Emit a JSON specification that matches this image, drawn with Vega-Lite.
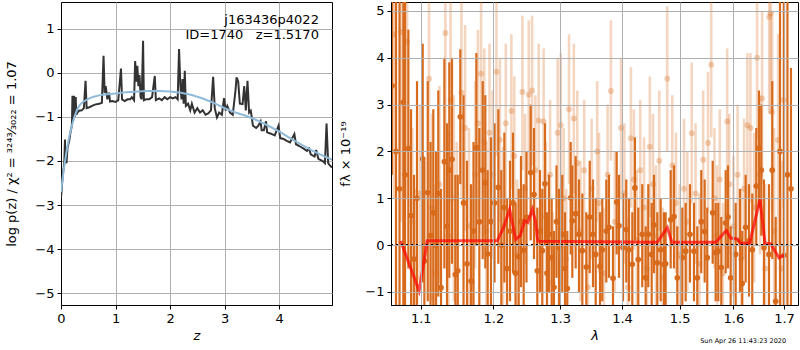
{
"$schema": "https://vega.github.io/schema/vega-lite/v6.json",
"padding": {"left": 5, "top": 1, "right": 0, "bottom": 0},
"spacing": 6,
"config": {
 "font": "DejaVu Sans",
 "view": {"stroke": "black", "strokeWidth": 1},
 "axis": {"labelFontSize": 13, "titleFontSize": 13, "titleFontWeight": "normal", "labelColor": "black", "titleColor": "black", "tickColor": "black", "domainColor": "black", "tickSize": 4, "labelPadding": 3, "gridColor": "#b0b0b0", "gridWidth": 1, "labelFont": "DejaVu Sans", "titleFont": "DejaVu Sans", "labelFlush": false, "labelOverlap": false}
},
"datasets": {
 "pz": [
  {"z":0,"lp":-2.84},{"z":0.03,"lp":-2.35},{"z":0.06,"lp":-2.05},{"z":0.073,"lp":-1.51},{"z":0.08,"lp":-1.95},{"z":0.1,"lp":-2.05},{"z":0.12,"lp":-1.7},{"z":0.15,"lp":-1.55},{"z":0.18,"lp":-1.3},{"z":0.2,"lp":-1.2},{"z":0.21,"lp":-0.52},{"z":0.22,"lp":-1.1},{"z":0.24,"lp":-0.52},{"z":0.25,"lp":-1.0},{"z":0.27,"lp":-0.55},{"z":0.28,"lp":-0.95},{"z":0.3,"lp":-0.9},{"z":0.33,"lp":-0.86},{"z":0.38,"lp":-0.85},{"z":0.42,"lp":-0.8},{"z":0.45,"lp":-0.18},{"z":0.47,"lp":-0.8},{"z":0.52,"lp":-0.78},{"z":0.57,"lp":-0.75},{"z":0.62,"lp":-0.72},{"z":0.7,"lp":-0.7},{"z":0.75,"lp":-0.68},{"z":0.78,"lp":0.39},{"z":0.8,"lp":-0.45},{"z":0.82,"lp":-0.3},{"z":0.85,"lp":-0.6},{"z":0.88,"lp":-0.45},{"z":0.9,"lp":-0.65},{"z":0.94,"lp":-0.64},{"z":1.0,"lp":-0.66},{"z":1.05,"lp":-0.62},{"z":1.1,"lp":0.1},{"z":1.12,"lp":-0.6},{"z":1.17,"lp":-0.64},{"z":1.22,"lp":-0.6},{"z":1.27,"lp":-0.6},{"z":1.3,"lp":-0.55},{"z":1.34,"lp":-0.62},{"z":1.36,"lp":0.27},{"z":1.38,"lp":-0.2},{"z":1.4,"lp":0.16},{"z":1.42,"lp":-0.3},{"z":1.44,"lp":-0.05},{"z":1.46,"lp":-0.55},{"z":1.48,"lp":-0.6},{"z":1.505,"lp":0.73},{"z":1.52,"lp":-0.62},{"z":1.56,"lp":-0.6},{"z":1.62,"lp":-0.6},{"z":1.67,"lp":-0.55},{"z":1.72,"lp":-0.07},{"z":1.74,"lp":-0.62},{"z":1.8,"lp":-0.58},{"z":1.85,"lp":-0.62},{"z":1.9,"lp":-0.55},{"z":1.95,"lp":-0.6},{"z":2.0,"lp":-0.55},{"z":2.05,"lp":-0.58},{"z":2.1,"lp":-0.55},{"z":2.14,"lp":-0.6},{"z":2.165,"lp":0.54},{"z":2.19,"lp":-0.3},{"z":2.21,"lp":-0.6},{"z":2.23,"lp":-0.14},{"z":2.25,"lp":-0.7},{"z":2.27,"lp":0.05},{"z":2.29,"lp":-0.75},{"z":2.33,"lp":-0.7},{"z":2.37,"lp":-0.85},{"z":2.4,"lp":-0.7},{"z":2.45,"lp":-0.9},{"z":2.5,"lp":-0.8},{"z":2.55,"lp":-0.9},{"z":2.6,"lp":-0.85},{"z":2.65,"lp":-0.95},{"z":2.7,"lp":-0.92},{"z":2.75,"lp":-0.85},{"z":2.79,"lp":-0.09},{"z":2.82,"lp":-0.8},{"z":2.86,"lp":-1.01},{"z":2.9,"lp":-0.9},{"z":2.95,"lp":-0.95},{"z":2.99,"lp":-0.57},{"z":3.02,"lp":-0.85},{"z":3.05,"lp":-0.75},{"z":3.1,"lp":-0.9},{"z":3.15,"lp":-0.95},{"z":3.2,"lp":-0.4},{"z":3.22,"lp":-0.1},{"z":3.25,"lp":-0.2},{"z":3.28,"lp":-0.7},{"z":3.33,"lp":-0.71},{"z":3.36,"lp":-0.3},{"z":3.39,"lp":-0.85},{"z":3.42,"lp":-0.18},{"z":3.45,"lp":-0.9},{"z":3.48,"lp":-0.86},{"z":3.52,"lp":-1.2},{"z":3.58,"lp":-1.25},{"z":3.62,"lp":-1.2},{"z":3.66,"lp":-1.1},{"z":3.68,"lp":-1.3},{"z":3.72,"lp":-1.3},{"z":3.76,"lp":-1.1},{"z":3.78,"lp":-1.35},{"z":3.85,"lp":-1.38},{"z":3.92,"lp":-1.42},{"z":3.99,"lp":-1.2},{"z":4.02,"lp":-1.48},{"z":4.08,"lp":-1.5},{"z":4.15,"lp":-1.55},{"z":4.2,"lp":-1.58},{"z":4.28,"lp":-1.39},{"z":4.31,"lp":-1.62},{"z":4.37,"lp":-1.66},{"z":4.45,"lp":-1.72},{"z":4.51,"lp":-1.77},{"z":4.55,"lp":-1.72},{"z":4.58,"lp":-1.85},{"z":4.65,"lp":-1.9},{"z":4.68,"lp":-1.75},{"z":4.72,"lp":-1.95},{"z":4.8,"lp":-2.0},{"z":4.84,"lp":-2.05},{"z":4.87,"lp":-1.15},{"z":4.9,"lp":-2.05},{"z":4.93,"lp":-2.1},{"z":4.97,"lp":-2.15}
 ],
 "pzs": [
  {"z":0,"lp":-2.7},{"z":0.05,"lp":-2.2},{"z":0.1,"lp":-1.8},{"z":0.15,"lp":-1.45},{"z":0.2,"lp":-1.2},{"z":0.25,"lp":-0.98},{"z":0.3,"lp":-0.82},{"z":0.35,"lp":-0.72},{"z":0.4,"lp":-0.66},{"z":0.5,"lp":-0.59},{"z":0.6,"lp":-0.54},{"z":0.7,"lp":-0.51},{"z":0.8,"lp":-0.49},{"z":1.0,"lp":-0.47},{"z":1.2,"lp":-0.44},{"z":1.4,"lp":-0.42},{"z":1.6,"lp":-0.41},{"z":1.8,"lp":-0.41},{"z":2.0,"lp":-0.42},{"z":2.2,"lp":-0.45},{"z":2.4,"lp":-0.5},{"z":2.6,"lp":-0.58},{"z":2.8,"lp":-0.68},{"z":3.0,"lp":-0.8},{"z":3.2,"lp":-0.9},{"z":3.4,"lp":-0.98},{"z":3.6,"lp":-1.08},{"z":3.8,"lp":-1.2},{"z":4.0,"lp":-1.33},{"z":4.2,"lp":-1.48},{"z":4.4,"lp":-1.62},{"z":4.6,"lp":-1.76},{"z":4.8,"lp":-1.88},{"z":4.97,"lp":-1.97}
 ],
 "dark": [
  {"l":1.0628,"y":3.4,"lo":1.5,"hi":6},{"l":1.0679,"y":2.0,"lo":-2,"hi":6},{"l":1.0724,"y":1.2,"lo":-2,"hi":6},{"l":1.0773,"y":3.05,"lo":-1.5,"hi":6},{"l":1.0795,"y":1.5,"lo":-2,"hi":6},{"l":1.0838,"y":2.06,"lo":-0.5,"hi":4.6},{"l":1.0873,"y":0.63,"lo":-1.6,"hi":2.9},{"l":1.0912,"y":-0.3,"lo":-2.2,"hi":1.5},{"l":1.0951,"y":1.0,"lo":-1.5,"hi":3.5},{"l":1.1026,"y":1.84,"lo":-0.8,"hi":4.3},{"l":1.1048,"y":-0.34,"lo":-2.5,"hi":1.8},{"l":1.1093,"y":1.12,"lo":-1.2,"hi":3.5},{"l":1.113,"y":0.2,"lo":-1.8,"hi":2.2},{"l":1.1167,"y":0.69,"lo":-1.5,"hi":2.9},{"l":1.1204,"y":0.0,"lo":-2,"hi":2},{"l":1.1234,"y":1.1,"lo":-1.1,"hi":3.3},{"l":1.1271,"y":-0.91,"lo":-3,"hi":1.2},{"l":1.1316,"y":1.78,"lo":-0.5,"hi":4.0},{"l":1.1352,"y":0.4,"lo":-1.8,"hi":2.6},{"l":1.1383,"y":1.6,"lo":-0.7,"hi":3.9},{"l":1.142,"y":1.83,"lo":-0.4,"hi":4.0},{"l":1.1466,"y":-0.63,"lo":-2.8,"hi":1.5},{"l":1.1499,"y":-0.55,"lo":-2.6,"hi":1.5},{"l":1.1534,"y":2.74,"lo":1.3,"hi":4.18},{"l":1.1579,"y":0.9,"lo":-1.4,"hi":3.2},{"l":1.1627,"y":-0.4,"lo":-2.6,"hi":1.8},{"l":1.1683,"y":-0.77,"lo":-2.8,"hi":1.3},{"l":1.1718,"y":0.3,"lo":-1.6,"hi":2.2},{"l":1.1758,"y":2.08,"lo":0,"hi":4.1},{"l":1.18,"y":0.5,"lo":-1.5,"hi":2.5},{"l":1.1848,"y":1.6,"lo":-0.3,"hi":3.5},{"l":1.1885,"y":1.33,"lo":-0.5,"hi":3.2},{"l":1.1919,"y":-0.19,"lo":-2,"hi":1.6},{"l":1.1966,"y":0.5,"lo":-1.3,"hi":2.3},{"l":1.2017,"y":0.9,"lo":-0.8,"hi":2.6},{"l":1.2072,"y":1.23,"lo":-0.4,"hi":2.9},{"l":1.2115,"y":0.0,"lo":-1.6,"hi":1.6},{"l":1.2159,"y":0.8,"lo":-0.8,"hi":2.4},{"l":1.2198,"y":-0.5,"lo":-2,"hi":1.0},{"l":1.2242,"y":0.3,"lo":-1.2,"hi":1.8},{"l":1.2286,"y":0.9,"lo":-0.6,"hi":2.4},{"l":1.2323,"y":-0.6,"lo":-2.1,"hi":0.9},{"l":1.237,"y":-0.25,"lo":-1.7,"hi":1.2},{"l":1.2404,"y":0.5,"lo":-0.9,"hi":1.9},{"l":1.2444,"y":-0.11,"lo":-1.5,"hi":1.3},{"l":1.2486,"y":0.6,"lo":-0.8,"hi":2.0},{"l":1.2549,"y":1.55,"lo":0.1,"hi":3.0},{"l":1.2599,"y":1.08,"lo":-0.3,"hi":2.5},{"l":1.2649,"y":-0.55,"lo":-1.9,"hi":0.8},{"l":1.269,"y":0.3,"lo":-1.0,"hi":1.6},{"l":1.2725,"y":-0.12,"lo":-1.4,"hi":1.2},{"l":1.2766,"y":1.31,"lo":0.0,"hi":2.6},{"l":1.2797,"y":-0.6,"lo":-1.9,"hi":0.7},{"l":1.2827,"y":0.23,"lo":-1.0,"hi":1.5},{"l":1.2869,"y":-0.27,"lo":-1.5,"hi":1.0},{"l":1.2904,"y":-0.9,"lo":-2.1,"hi":0.3},{"l":1.2943,"y":0.5,"lo":-0.7,"hi":1.7},{"l":1.2982,"y":-0.05,"lo":-1.3,"hi":1.2},{"l":1.3033,"y":0.23,"lo":-1.0,"hi":1.5},{"l":1.3076,"y":-0.5,"lo":-1.7,"hi":0.7},{"l":1.3112,"y":-0.93,"lo":-2.1,"hi":0.3},{"l":1.3165,"y":1.01,"lo":-0.2,"hi":2.2},{"l":1.3191,"y":0.52,"lo":-0.7,"hi":1.7},{"l":1.3244,"y":0.67,"lo":-0.5,"hi":1.9},{"l":1.3297,"y":0.23,"lo":-1.0,"hi":1.4},{"l":1.335,"y":-0.12,"lo":-1.3,"hi":1.1},{"l":1.3414,"y":-0.47,"lo":-1.6,"hi":0.7},{"l":1.3469,"y":0.6,"lo":-0.6,"hi":1.8},{"l":1.3522,"y":0.23,"lo":-0.9,"hi":1.4},{"l":1.3566,"y":-0.2,"lo":-1.4,"hi":1.0},{"l":1.3636,"y":-0.45,"lo":-1.6,"hi":0.7},{"l":1.3673,"y":-0.1,"lo":-1.2,"hi":1.0},{"l":1.3739,"y":0.3,"lo":-0.8,"hi":1.4},{"l":1.3783,"y":0.38,"lo":-0.7,"hi":1.5},{"l":1.385,"y":-0.71,"lo":-1.8,"hi":0.4},{"l":1.3911,"y":0.92,"lo":-0.2,"hi":2.0},{"l":1.395,"y":0.41,"lo":-0.7,"hi":1.5},{"l":1.4017,"y":-0.06,"lo":-1.2,"hi":1.1},{"l":1.4072,"y":0.33,"lo":-0.8,"hi":1.4},{"l":1.4118,"y":-0.1,"lo":-1.2,"hi":1.0},{"l":1.4174,"y":-0.41,"lo":-1.5,"hi":0.7},{"l":1.4219,"y":1.22,"lo":0.1,"hi":2.3},{"l":1.4276,"y":-0.31,"lo":-1.4,"hi":0.8},{"l":1.4344,"y":0.23,"lo":-0.9,"hi":1.3},{"l":1.4403,"y":-0.7,"lo":-1.8,"hi":0.4},{"l":1.4448,"y":0.23,"lo":-0.9,"hi":1.3},{"l":1.4507,"y":-0.2,"lo":-1.3,"hi":0.9},{"l":1.4547,"y":0.43,"lo":-0.6,"hi":1.5},{"l":1.4605,"y":-0.38,"lo":-1.4,"hi":0.7},{"l":1.4664,"y":-0.1,"lo":-1.2,"hi":1.0},{"l":1.4722,"y":-0.41,"lo":-1.5,"hi":0.7},{"l":1.4752,"y":-0.4,"lo":-1.5,"hi":0.7},{"l":1.4841,"y":0.54,"lo":-0.5,"hi":1.6},{"l":1.49,"y":0.61,"lo":-0.5,"hi":1.7},{"l":1.4959,"y":-0.7,"lo":-1.8,"hi":0.4},{"l":1.5049,"y":-0.27,"lo":-1.3,"hi":0.8},{"l":1.511,"y":-0.13,"lo":-1.2,"hi":0.9},{"l":1.5188,"y":0.23,"lo":-0.8,"hi":1.3},{"l":1.5261,"y":-0.13,"lo":-1.2,"hi":0.9},{"l":1.5322,"y":-0.7,"lo":-1.8,"hi":0.4},{"l":1.5395,"y":0.5,"lo":-0.6,"hi":1.6},{"l":1.5458,"y":0.29,"lo":-0.8,"hi":1.4},{"l":1.5506,"y":-0.27,"lo":-1.3,"hi":0.8},{"l":1.5607,"y":0.69,"lo":-0.4,"hi":1.8},{"l":1.5663,"y":-0.16,"lo":-1.2,"hi":0.9},{"l":1.5712,"y":-0.13,"lo":-1.2,"hi":0.9},{"l":1.5769,"y":-0.48,"lo":-1.6,"hi":0.6},{"l":1.5852,"y":0.47,"lo":-0.6,"hi":1.6},{"l":1.5896,"y":0.6,"lo":-0.5,"hi":1.7},{"l":1.5947,"y":-0.7,"lo":-1.8,"hi":0.4},{"l":1.6043,"y":-0.2,"lo":-1.3,"hi":0.9},{"l":1.6126,"y":0.09,"lo":-1.0,"hi":1.2},{"l":1.617,"y":-0.82,"lo":-1.9,"hi":0.3},{"l":1.6236,"y":0.38,"lo":-0.8,"hi":1.5},{"l":1.6301,"y":0.09,"lo":-1.1,"hi":1.3},{"l":1.6365,"y":-0.1,"lo":-1.3,"hi":1.1},{"l":1.6444,"y":1.26,"lo":0,"hi":2.5},{"l":1.6497,"y":2.07,"lo":0.8,"hi":3.3},{"l":1.6543,"y":1.6,"lo":0.2,"hi":3.0},{"l":1.6596,"y":-0.06,"lo":-1.5,"hi":1.4},{"l":1.6696,"y":-0.2,"lo":-1.7,"hi":1.3},{"l":1.6762,"y":1.6,"lo":-0.3,"hi":3.5},{"l":1.6831,"y":-1.2,"lo":-3.0,"hi":0.6},{"l":1.6918,"y":2.0,"lo":-1.5,"hi":6},{"l":1.7,"y":-0.22,"lo":-2.5,"hi":6},{"l":1.707,"y":1.5,"lo":-2.5,"hi":6},{"l":1.7142,"y":1.2,"lo":-1.4,"hi":3.78}
 ],
 "light": [
  {"l":1.065,"y":4.5,"lo":1.0,"hi":8},{"l":1.074,"y":4.55,"lo":0.5,"hi":8},{"l":1.0822,"y":4.34,"lo":1.0,"hi":7.5},{"l":1.089,"y":0.5,"lo":-1.5,"hi":2.5},{"l":1.0935,"y":-0.7,"lo":-2.5,"hi":1.2},{"l":1.099,"y":1.1,"lo":-0.8,"hi":3.0},{"l":1.111,"y":3.55,"lo":1.2,"hi":5.9},{"l":1.115,"y":0.8,"lo":-1.2,"hi":2.8},{"l":1.119,"y":-0.6,"lo":-2.5,"hi":1.3},{"l":1.125,"y":1.3,"lo":-0.8,"hi":3.4},{"l":1.133,"y":4.53,"lo":2.0,"hi":7},{"l":1.137,"y":0.2,"lo":-2,"hi":2.4},{"l":1.14,"y":3.1,"lo":0.9,"hi":5.3},{"l":1.1445,"y":1.0,"lo":-1.2,"hi":3.2},{"l":1.1485,"y":0.0,"lo":-2.2,"hi":2.2},{"l":1.155,"y":3.25,"lo":1.0,"hi":5.5},{"l":1.16,"y":2.5,"lo":0.3,"hi":4.7},{"l":1.1655,"y":0.4,"lo":-1.7,"hi":2.5},{"l":1.17,"y":-0.8,"lo":-2.8,"hi":1.2},{"l":1.174,"y":1.5,"lo":-0.5,"hi":3.5},{"l":1.178,"y":2.6,"lo":0.6,"hi":4.6},{"l":1.1825,"y":3.66,"lo":1.6,"hi":5.7},{"l":1.187,"y":2.2,"lo":0.2,"hi":4.2},{"l":1.19,"y":0.3,"lo":-1.6,"hi":2.2},{"l":1.1945,"y":2.4,"lo":0.5,"hi":4.3},{"l":1.199,"y":1.5,"lo":-0.3,"hi":3.3},{"l":1.2045,"y":3.7,"lo":1.9,"hi":5.5},{"l":1.2095,"y":2.25,"lo":0.5,"hi":4.0},{"l":1.214,"y":0.4,"lo":-1.3,"hi":2.1},{"l":1.218,"y":2.6,"lo":0.9,"hi":4.3},{"l":1.2262,"y":2.86,"lo":1.2,"hi":4.5},{"l":1.2305,"y":1.9,"lo":0.2,"hi":3.6},{"l":1.2345,"y":-0.2,"lo":-1.8,"hi":1.4},{"l":1.2425,"y":3.27,"lo":1.6,"hi":4.9},{"l":1.2465,"y":1.2,"lo":-0.4,"hi":2.8},{"l":1.252,"y":3.21,"lo":1.6,"hi":4.8},{"l":1.257,"y":3.3,"lo":1.7,"hi":4.9},{"l":1.262,"y":1.6,"lo":0,"hi":3.2},{"l":1.267,"y":2.66,"lo":1.0,"hi":4.3},{"l":1.2745,"y":2.64,"lo":1.0,"hi":4.2},{"l":1.278,"y":0.6,"lo":-1.0,"hi":2.2},{"l":1.2845,"y":1.5,"lo":-0.1,"hi":3.1},{"l":1.2885,"y":-0.8,"lo":-2.3,"hi":0.7},{"l":1.2962,"y":2.4,"lo":0.8,"hi":4.0},{"l":1.301,"y":2.56,"lo":1.0,"hi":4.1},{"l":1.3055,"y":1.0,"lo":-0.5,"hi":2.5},{"l":1.3095,"y":-0.3,"lo":-1.8,"hi":1.2},{"l":1.3139,"y":2.9,"lo":1.3,"hi":4.5},{"l":1.3215,"y":2.7,"lo":1.1,"hi":4.3},{"l":1.327,"y":1.75,"lo":0.2,"hi":3.3},{"l":1.332,"y":0.3,"lo":-1.2,"hi":1.8},{"l":1.338,"y":1.6,"lo":0.1,"hi":3.1},{"l":1.344,"y":-0.9,"lo":-2.4,"hi":0.6},{"l":1.35,"y":1.2,"lo":-0.3,"hi":2.7},{"l":1.359,"y":2.0,"lo":0.5,"hi":3.5},{"l":1.362,"y":0.9,"lo":-0.6,"hi":2.4},{"l":1.37,"y":-0.6,"lo":-2.0,"hi":0.8},{"l":1.376,"y":1.5,"lo":0.0,"hi":3.0},{"l":1.3815,"y":3.29,"lo":1.8,"hi":4.8},{"l":1.388,"y":0.5,"lo":-1.0,"hi":2.0},{"l":1.3985,"y":2.5,"lo":1.0,"hi":4.0},{"l":1.404,"y":1.1,"lo":-0.4,"hi":2.6},{"l":1.41,"y":-0.9,"lo":-2.4,"hi":0.6},{"l":1.415,"y":2.28,"lo":0.8,"hi":3.8},{"l":1.42,"y":1.4,"lo":-0.1,"hi":2.9},{"l":1.425,"y":0.1,"lo":-1.4,"hi":1.6},{"l":1.431,"y":1.6,"lo":0.1,"hi":3.1},{"l":1.4375,"y":0.8,"lo":-0.7,"hi":2.3},{"l":1.4425,"y":-0.5,"lo":-2,"hi":1.0},{"l":1.4475,"y":2.1,"lo":0.6,"hi":3.6},{"l":1.453,"y":1.3,"lo":-0.2,"hi":2.8},{"l":1.458,"y":0.2,"lo":-1.3,"hi":1.7},{"l":1.464,"y":1.8,"lo":0.3,"hi":3.3},{"l":1.47,"y":-0.7,"lo":-2.2,"hi":0.8},{"l":1.478,"y":3.55,"lo":2.0,"hi":5.1},{"l":1.487,"y":1.7,"lo":0.2,"hi":3.2},{"l":1.4935,"y":0.9,"lo":-0.6,"hi":2.4},{"l":1.5,"y":-0.2,"lo":-1.7,"hi":1.3},{"l":1.508,"y":1.2,"lo":-0.3,"hi":2.7},{"l":1.514,"y":0.5,"lo":-1.0,"hi":2.0},{"l":1.522,"y":2.39,"lo":0.9,"hi":3.9},{"l":1.529,"y":1.1,"lo":-0.4,"hi":2.6},{"l":1.536,"y":-0.4,"lo":-1.9,"hi":1.1},{"l":1.543,"y":1.82,"lo":0.3,"hi":3.3},{"l":1.552,"y":2.18,"lo":0.7,"hi":3.7},{"l":1.558,"y":3.85,"lo":2.3,"hi":5.4},{"l":1.564,"y":1.0,"lo":-0.5,"hi":2.5},{"l":1.569,"y":0.2,"lo":-1.3,"hi":1.7},{"l":1.574,"y":1.4,"lo":-0.1,"hi":2.9},{"l":1.58,"y":-0.6,"lo":-2.1,"hi":0.9},{"l":1.588,"y":2.64,"lo":1.1,"hi":4.2},{"l":1.592,"y":1.3,"lo":-0.2,"hi":2.8},{"l":1.6,"y":0.4,"lo":-1.1,"hi":1.9},{"l":1.608,"y":1.5,"lo":0.0,"hi":3.0},{"l":1.615,"y":-0.3,"lo":-1.8,"hi":1.2},{"l":1.6205,"y":1.2,"lo":-0.3,"hi":2.7},{"l":1.627,"y":2.56,"lo":1.0,"hi":4.1},{"l":1.633,"y":2.5,"lo":0.9,"hi":4.1},{"l":1.64,"y":0.8,"lo":-0.8,"hi":2.4},{"l":1.646,"y":4.0,"lo":2.3,"hi":5.7},{"l":1.652,"y":1.5,"lo":-0.2,"hi":3.2},{"l":1.656,"y":3.13,"lo":1.3,"hi":5.0},{"l":1.662,"y":-0.5,"lo":-2.3,"hi":1.3},{"l":1.67,"y":4.87,"lo":2.8,"hi":7},{"l":1.673,"y":4.95,"lo":2.8,"hi":7},{"l":1.676,"y":2.84,"lo":0.7,"hi":5.0},{"l":1.68,"y":0.3,"lo":-1.9,"hi":2.5},{"l":1.688,"y":2.24,"lo":0,"hi":4.5},{"l":1.695,"y":-0.5,"lo":-2.8,"hi":1.8},{"l":1.699,"y":3.1,"lo":0.8,"hi":5.4}
 ],
 "model": [
  {"l":1.074,"y":0.085},{"l":1.0978,"y":-0.98},{"l":1.1087,"y":0.09},{"l":1.2057,"y":0.09},{"l":1.2147,"y":0.37},{"l":1.2236,"y":0.76},{"l":1.2325,"y":0.12},{"l":1.2393,"y":0.2},{"l":1.246,"y":0.52},{"l":1.2506,"y":0.48},{"l":1.2574,"y":0.76},{"l":1.262,"y":0.52},{"l":1.2657,"y":0.08},{"l":1.4605,"y":0.06},{"l":1.4782,"y":0.37},{"l":1.4863,"y":0.06},{"l":1.5665,"y":0.06},{"l":1.5864,"y":0.31},{"l":1.5947,"y":0.15},{"l":1.6073,"y":0.13},{"l":1.6138,"y":0.04},{"l":1.6313,"y":0.04},{"l":1.6518,"y":0.97},{"l":1.6617,"y":0.04},{"l":1.673,"y":0.03},{"l":1.6897,"y":-0.27},{"l":1.7,"y":-0.22}
 ]
},
"hconcat": [
 {
  "width": 271, "height": 303,
  "layer": [
   {"data": {"name": "pz"},
    "mark": {"type": "line", "color": "#333333", "strokeWidth": 2, "clip": true},
    "encoding": {
     "x": {"field": "z", "type": "quantitative", "scale": {"domain": [0, 4.97], "nice": false, "zero": false}, "axis": {"values": [0,1,2,3,4], "title": "z", "titleFontStyle": "italic", "titlePadding": 4}},
     "y": {"field": "lp", "type": "quantitative", "scale": {"domain": [-5.27, 1.61], "nice": false, "zero": false}, "axis": {"values": [-5,-4,-3,-2,-1,0,1], "title": "log p(z) / χ² = ³²⁴³⁄₃₀₂₂ = 1.07", "titlePadding": 16}}
    }},
   {"data": {"name": "pzs"},
    "mark": {"type": "line", "color": "#8fbbd9", "strokeWidth": 2, "clip": true},
    "encoding": {
     "x": {"field": "z", "type": "quantitative", "scale": {"domain": [0, 4.97], "nice": false, "zero": false}, "title": "z"},
     "y": {"field": "lp", "type": "quantitative", "scale": {"domain": [-5.27, 1.61], "nice": false, "zero": false}, "title": "log p(z) / χ² = ³²⁴³⁄₃₀₂₂ = 1.07"}
    }},
   {"data": {"values": [{}]},
    "mark": {"type": "text", "text": "j163436p4022", "align": "right", "baseline": "middle", "fontSize": 13, "font": "DejaVu Sans", "color": "black"},
    "encoding": {"x": {"datum": 4.73}, "y": {"datum": 1.2}}},
   {"data": {"values": [{}]},
    "mark": {"type": "text", "text": "ID=1740\u00a0\u00a0\u00a0z=1.5170", "align": "right", "baseline": "middle", "fontSize": 13, "font": "DejaVu Sans", "color": "black"},
    "encoding": {"x": {"datum": 4.73}, "y": {"datum": 0.86}}}
  ]
 },
 {
  "width": 407, "height": 303,
  "layer": [
   {"data": {"name": "light"},
    "mark": {"type": "rule", "color": "#d86a1c", "opacity": 0.28, "strokeWidth": 2.6, "clip": true},
    "encoding": {
     "x": {"field": "l", "type": "quantitative", "scale": {"type": "log", "domain": [1.0615, 1.7287], "nice": false}, "axis": {"values": [1.1,1.2,1.3,1.4,1.5,1.6,1.7], "format": ".1f", "title": "λ", "titleFontStyle": "italic", "titlePadding": 4, "zindex": 1}},
     "y": {"field": "lo", "type": "quantitative", "scale": {"domain": [-1.28, 5.19], "nice": false, "zero": false}, "axis": {"values": [-1,0,1,2,3,4,5], "title": "fλ × 10⁻¹⁹", "titlePadding": 12, "zindex": 1}},
     "y2": {"field": "hi"}
    }},
   {"data": {"name": "light"},
    "mark": {"type": "circle", "color": "#d86a1c", "opacity": 0.3, "size": 36, "clip": true},
    "encoding": {
     "x": {"field": "l", "type": "quantitative", "scale": {"type": "log", "domain": [1.0615, 1.7287], "nice": false}, "title": "λ"},
     "y": {"field": "y", "type": "quantitative", "scale": {"domain": [-1.28, 5.19], "nice": false, "zero": false}, "title": "fλ × 10⁻¹⁹"}
    }},
   {"data": {"name": "dark"},
    "mark": {"type": "rule", "color": "#d86a1c", "strokeWidth": 2.2, "clip": true},
    "encoding": {
     "x": {"field": "l", "type": "quantitative", "scale": {"type": "log", "domain": [1.0615, 1.7287], "nice": false}, "title": "λ"},
     "y": {"field": "lo", "type": "quantitative", "scale": {"domain": [-1.28, 5.19], "nice": false, "zero": false}, "title": "fλ × 10⁻¹⁹"},
     "y2": {"field": "hi"}
    }},
   {"data": {"name": "dark"},
    "mark": {"type": "circle", "color": "#d86a1c", "opacity": 1, "size": 32, "clip": true},
    "encoding": {
     "x": {"field": "l", "type": "quantitative", "scale": {"type": "log", "domain": [1.0615, 1.7287], "nice": false}, "title": "λ"},
     "y": {"field": "y", "type": "quantitative", "scale": {"domain": [-1.28, 5.19], "nice": false, "zero": false}, "title": "fλ × 10⁻¹⁹"}
    }},
   {"data": {"name": "model"},
    "mark": {"type": "line", "color": "red", "opacity": 0.7, "strokeWidth": 3, "clip": true},
    "encoding": {
     "x": {"field": "l", "type": "quantitative", "scale": {"type": "log", "domain": [1.0615, 1.7287], "nice": false}, "title": "λ"},
     "y": {"field": "y", "type": "quantitative", "scale": {"domain": [-1.28, 5.19], "nice": false, "zero": false}, "title": "fλ × 10⁻¹⁹"}
    }},
   {"data": {"values": [{}]},
    "mark": {"type": "rule", "color": "black", "strokeWidth": 2, "strokeDash": [2, 3]},
    "encoding": {"y": {"datum": 0}}},
   {"data": {"values": [{}]},
    "mark": {"type": "text", "text": "Sun Apr 26 11:43:23 2020", "align": "right", "baseline": "middle", "fontSize": 6.5, "font": "DejaVu Sans", "color": "black"},
    "encoding": {"x": {"datum": 1.7042}, "y": {"datum": -2.05}}}
  ]
 }
]
}
